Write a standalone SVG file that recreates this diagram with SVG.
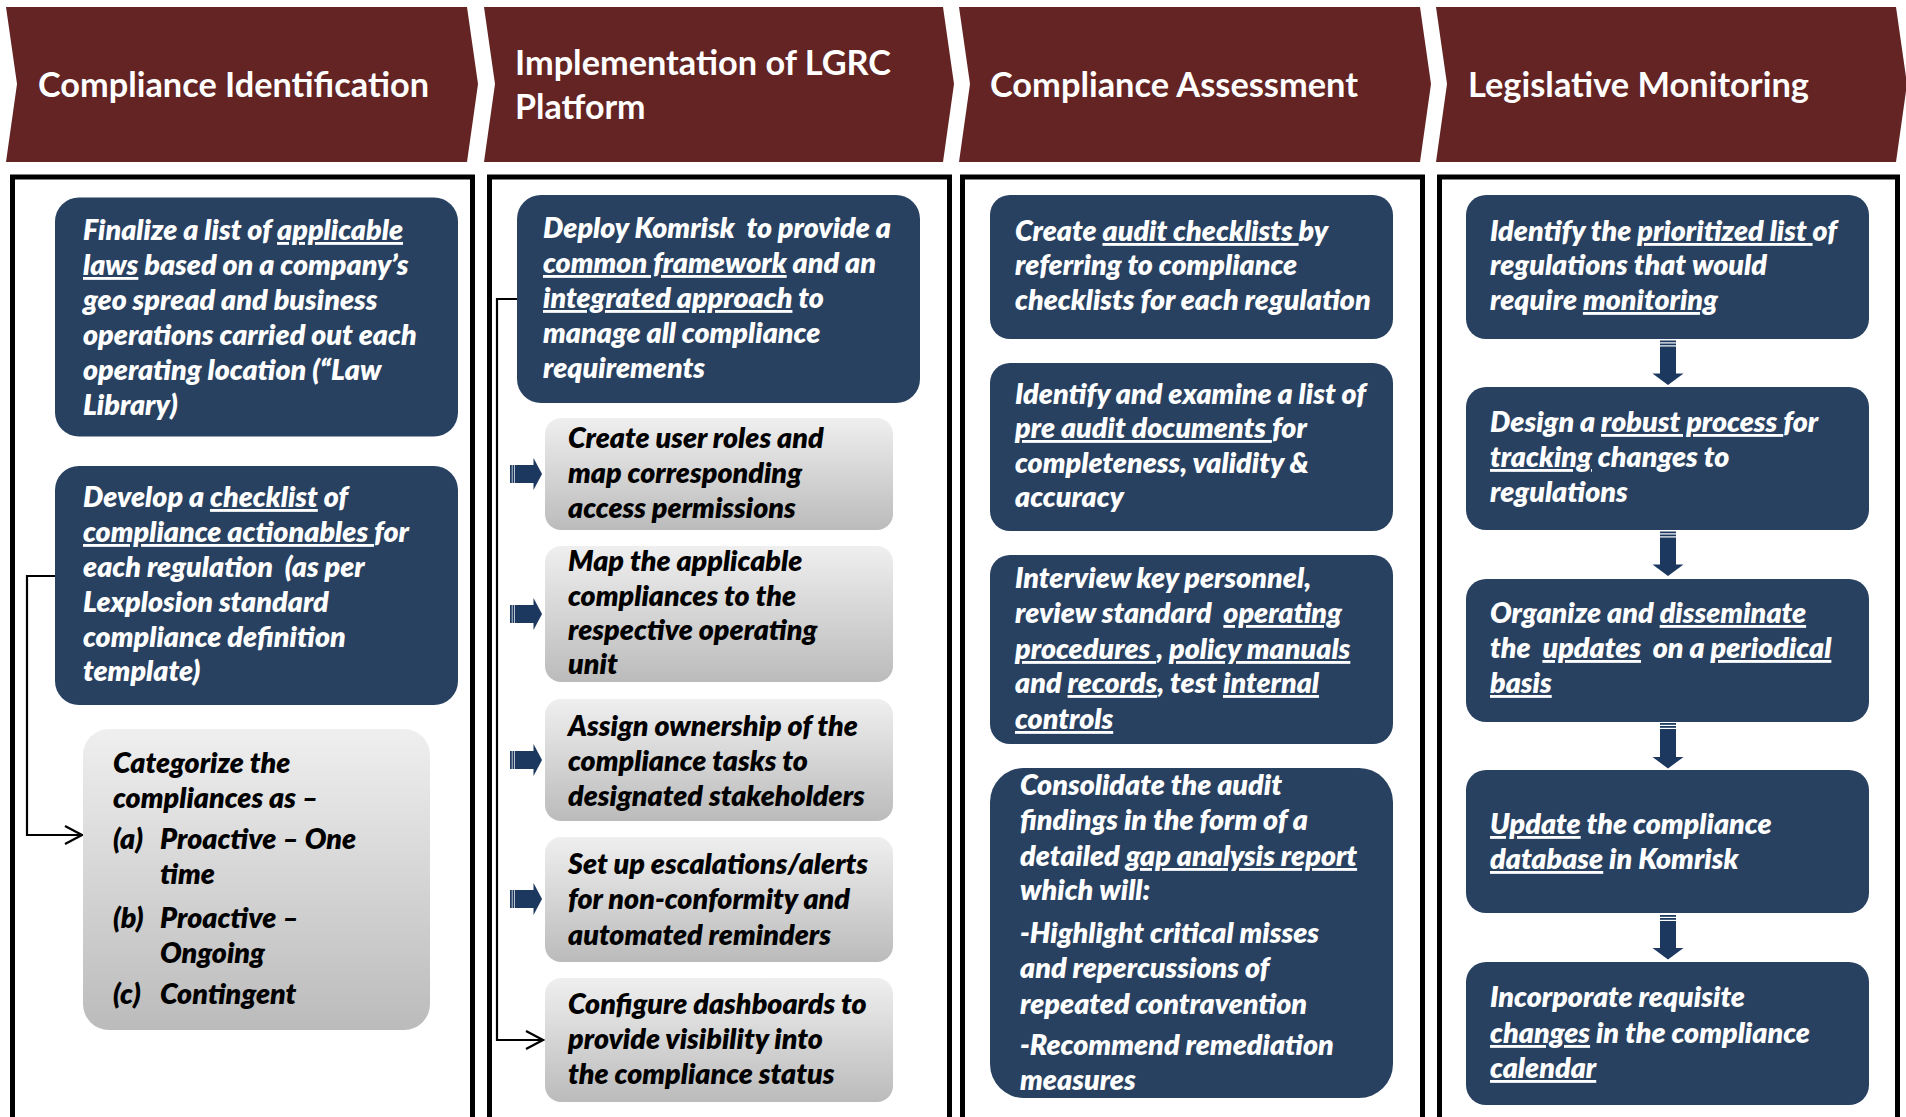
<svg xmlns="http://www.w3.org/2000/svg" width="1906" height="1117" viewBox="0 0 1906 1117">
<defs>
<style>
.hdr{font-family:Lato,"Liberation Sans",sans-serif;font-weight:700;font-size:34px;fill:#fff}
.bt{font-family:Lato,"Liberation Sans",sans-serif;font-weight:800;font-style:italic;font-size:28.6px;fill:#fff;white-space:pre}
.gt{font-family:Lato,"Liberation Sans",sans-serif;font-weight:800;font-style:italic;font-size:28.6px;fill:#000;white-space:pre}
.u{text-decoration:underline}
.chev{fill:#632423}
.blue{fill:#284161}
.gray{fill:url(#gg)}
.col{fill:none;stroke:#000;stroke-width:5}
.conn{fill:none;stroke:#000;stroke-width:2.2}
.ba{fill:#1c385f}
</style>
<linearGradient id="gg" x1="0" y1="0" x2="0" y2="1">
<stop offset="0" stop-color="#efefef"/>
<stop offset="1" stop-color="#bbbbbb"/>
</linearGradient>
<marker id="oa" markerWidth="20" markerHeight="22" refX="18" refY="10" orient="auto" markerUnits="userSpaceOnUse">
<path d="M1,1 L18,10 L1,19" fill="none" stroke="#000" stroke-width="2.2"/>
</marker>
</defs>
<rect width="1906" height="1117" fill="#fff"/>

<g id="headers">
<g id="h1"><polygon class="chev" points="6,7 467,7 478,84 467,162 6,162 17,84"/><text class="hdr" x="38" y="97" textLength="391" lengthAdjust="spacingAndGlyphs">Compliance Identification</text></g>
<g id="h2"><polygon class="chev" points="484,7 943,7 954,84 943,162 484,162 495,84"/><text class="hdr" x="515" y="75" textLength="376" lengthAdjust="spacingAndGlyphs">Implementation of LGRC</text><text class="hdr" x="515" y="119">Platform</text></g>
<g id="h3"><polygon class="chev" points="959,7 1420,7 1431,84 1420,162 959,162 970,84"/><text class="hdr" x="990" y="97" textLength="368" lengthAdjust="spacingAndGlyphs">Compliance Assessment</text></g>
<g id="h4"><polygon class="chev" points="1436,7 1896,7 1907,84 1896,162 1436,162 1447,84"/><text class="hdr" x="1468" y="97" textLength="341" lengthAdjust="spacingAndGlyphs">Legislative Monitoring</text></g>
</g>

<g id="columns">
<path class="col" d="M12.5,1120 V177 H472.5 V1120"/>
<path class="col" d="M489.5,1120 V177 H949.5 V1120"/>
<path class="col" d="M962.5,1120 V177 H1422.5 V1120"/>
<path class="col" d="M1439.5,1120 V177 H1897.5 V1120"/>
</g>

<g id="connectors">
<path class="conn" d="M57,576 H27 V835 H82" marker-end="url(#oa)"/>
<path class="conn" d="M517,299 H497 V1040 H543" marker-end="url(#oa)"/>
<g id="rarrows" class="ba">
<rect x="510" y="465" width="1.8" height="18"/><rect x="512.5" y="465" width="1.8" height="18"/><rect x="515" y="465" width="19" height="18"/><polygon points="533.5,458 542,474 533.5,490"/>
<rect x="510" y="605" width="1.8" height="18"/><rect x="512.5" y="605" width="1.8" height="18"/><rect x="515" y="605" width="19" height="18"/><polygon points="533.5,598 542,614 533.5,630"/>
<rect x="510" y="751" width="1.8" height="18"/><rect x="512.5" y="751" width="1.8" height="18"/><rect x="515" y="751" width="19" height="18"/><polygon points="533.5,744 542,760 533.5,776"/>
<rect x="510" y="890" width="1.8" height="18"/><rect x="512.5" y="890" width="1.8" height="18"/><rect x="515" y="890" width="19" height="18"/><polygon points="533.5,883 542,899 533.5,915"/>
</g>
<g id="darrows" class="ba">
<rect x="1660" y="340.5" width="16" height="1.8"/><rect x="1660" y="343.5" width="16" height="1.8"/><rect x="1660" y="346.5" width="16" height="27.5"/><polygon points="1652.5,373.5 1683.5,373.5 1668,385"/>
<rect x="1660" y="531.5" width="16" height="1.8"/><rect x="1660" y="534.5" width="16" height="1.8"/><rect x="1660" y="537.5" width="16" height="27.5"/><polygon points="1652.5,564.5 1683.5,564.5 1668,576"/>
<rect x="1660" y="723" width="16" height="1.8"/><rect x="1660" y="726" width="16" height="1.8"/><rect x="1660" y="729" width="16" height="28"/><polygon points="1652.5,757 1683.5,757 1668,768.5"/>
<rect x="1660" y="915" width="16" height="1.8"/><rect x="1660" y="918" width="16" height="1.8"/><rect x="1660" y="921" width="16" height="27.5"/><polygon points="1652.5,948 1683.5,948 1668,959.5"/>
</g>
</g>

<g id="c1b1"><rect class="blue" x="55" y="197.5" width="403" height="239" rx="24"/>
<text class="bt" x="83" y="240">Finalize a list of <tspan class="u">applicable</tspan></text>
<text class="bt" x="83" y="275"><tspan class="u">laws</tspan> based on a company’s</text>
<text class="bt" x="83" y="310">geo spread and business</text>
<text class="bt" x="83" y="345">operations carried out each</text>
<text class="bt" x="83" y="380">operating location (“Law</text>
<text class="bt" x="83" y="415">Library)</text>
</g>
<g id="c1b2"><rect class="blue" x="55" y="466" width="403" height="239" rx="24"/>
<text class="bt" x="83" y="507">Develop a <tspan class="u">checklist</tspan> of</text>
<text class="bt" x="83" y="542"><tspan class="u">compliance actionables </tspan>for</text>
<text class="bt" x="83" y="577">each regulation  (as per</text>
<text class="bt" x="83" y="612">Lexplosion standard</text>
<text class="bt" x="83" y="647">compliance definition</text>
<text class="bt" x="83" y="681">template)</text>
</g>
<g id="c1g"><rect class="gray" x="83" y="729" width="347" height="301" rx="26"/>
<text class="gt" x="113" y="773">Categorize the</text>
<text class="gt" x="113" y="808">compliances as –</text>
<text class="gt" x="113" y="849">(a)</text><text class="gt" x="160" y="849">Proactive – One</text>
<text class="gt" x="160" y="884">time</text>
<text class="gt" x="113" y="928">(b)</text><text class="gt" x="160" y="928">Proactive –</text>
<text class="gt" x="160" y="963">Ongoing</text>
<text class="gt" x="113" y="1004">(c)</text><text class="gt" x="160" y="1004">Contingent</text>
</g>

<g id="c2b1"><rect class="blue" x="517" y="195" width="403" height="208" rx="24"/>
<text class="bt" x="543" y="238">Deploy Komrisk  to provide a</text>
<text class="bt" x="543" y="273"><tspan class="u">common framework</tspan> and an</text>
<text class="bt" x="543" y="308"><tspan class="u">integrated approach</tspan> to</text>
<text class="bt" x="543" y="343">manage all compliance</text>
<text class="bt" x="543" y="378">requirements</text>
</g>
<g id="c2g1"><rect class="gray" x="545" y="418" width="348" height="112" rx="16"/>
<text class="gt" x="568" y="448">Create user roles and</text>
<text class="gt" x="568" y="483">map corresponding</text>
<text class="gt" x="568" y="518">access permissions</text>
</g>
<g id="c2g2"><rect class="gray" x="545" y="546" width="348" height="136" rx="16"/>
<text class="gt" x="568" y="571">Map the applicable</text>
<text class="gt" x="568" y="606">compliances to the</text>
<text class="gt" x="568" y="640">respective operating</text>
<text class="gt" x="568" y="674">unit</text>
</g>
<g id="c2g3"><rect class="gray" x="545" y="699" width="348" height="122" rx="16"/>
<text class="gt" x="568" y="736">Assign ownership of the</text>
<text class="gt" x="568" y="771">compliance tasks to</text>
<text class="gt" x="568" y="806">designated stakeholders</text>
</g>
<g id="c2g4"><rect class="gray" x="545" y="837" width="348" height="125" rx="16"/>
<text class="gt" x="568" y="874">Set up escalations/alerts</text>
<text class="gt" x="568" y="909">for non-conformity and</text>
<text class="gt" x="568" y="945">automated reminders</text>
</g>
<g id="c2g5"><rect class="gray" x="545" y="978" width="348" height="124" rx="16"/>
<text class="gt" x="568" y="1014">Configure dashboards to</text>
<text class="gt" x="568" y="1049">provide visibility into</text>
<text class="gt" x="568" y="1084">the compliance status</text>
</g>

<g id="c3b1"><rect class="blue" x="990" y="195" width="403" height="144" rx="20"/>
<text class="bt" x="1015" y="241">Create <tspan class="u">audit checklists </tspan>by</text>
<text class="bt" x="1015" y="275">referring to compliance</text>
<text class="bt" x="1015" y="310">checklists for each regulation</text>
</g>
<g id="c3b2"><rect class="blue" x="990" y="363" width="403" height="168" rx="20"/>
<text class="bt" x="1015" y="404">Identify and examine a list of</text>
<text class="bt" x="1015" y="438"><tspan class="u">pre audit documents </tspan>for</text>
<text class="bt" x="1015" y="473">completeness, validity &amp;</text>
<text class="bt" x="1015" y="507">accuracy</text>
</g>
<g id="c3b3"><rect class="blue" x="990" y="555" width="403" height="189" rx="20"/>
<text class="bt" x="1015" y="588">Interview key personnel,</text>
<text class="bt" x="1015" y="623">review standard  <tspan class="u">operating</tspan></text>
<text class="bt" x="1015" y="659"><tspan class="u">procedures </tspan>, <tspan class="u">policy manuals</tspan></text>
<text class="bt" x="1015" y="693">and <tspan class="u">records</tspan>, test <tspan class="u">internal</tspan></text>
<text class="bt" x="1015" y="729"><tspan class="u">controls</tspan></text>
</g>
<g id="c3b4"><rect class="blue" x="990" y="768" width="403" height="330" rx="34"/>
<text class="bt" x="1020" y="795">Consolidate the audit</text>
<text class="bt" x="1020" y="830">findings in the form of a</text>
<text class="bt" x="1020" y="866">detailed <tspan class="u">gap analysis report</tspan></text>
<text class="bt" x="1020" y="900">which will:</text>
<text class="bt" x="1020" y="943">-Highlight critical misses</text>
<text class="bt" x="1020" y="978">and repercussions of</text>
<text class="bt" x="1020" y="1014">repeated contravention</text>
<text class="bt" x="1020" y="1055">-Recommend remediation</text>
<text class="bt" x="1020" y="1090">measures</text>
</g>

<g id="c4b1"><rect class="blue" x="1466" y="195" width="403" height="144" rx="20"/>
<text class="bt" x="1490" y="241">Identify the <tspan class="u">prioritized list </tspan>of</text>
<text class="bt" x="1490" y="275">regulations that would</text>
<text class="bt" x="1490" y="310">require <tspan class="u">monitoring</tspan></text>
</g>
<g id="c4b2"><rect class="blue" x="1466" y="387" width="403" height="143" rx="20"/>
<text class="bt" x="1490" y="432">Design a <tspan class="u">robust process </tspan>for</text>
<text class="bt" x="1490" y="467"><tspan class="u">tracking</tspan> changes to</text>
<text class="bt" x="1490" y="502">regulations</text>
</g>
<g id="c4b3"><rect class="blue" x="1466" y="579" width="403" height="143" rx="20"/>
<text class="bt" x="1490" y="623">Organize and <tspan class="u">disseminate</tspan></text>
<text class="bt" x="1490" y="658">the  <tspan class="u">updates</tspan>  on a <tspan class="u">periodical</tspan></text>
<text class="bt" x="1490" y="693"><tspan class="u">basis</tspan></text>
</g>
<g id="c4b4"><rect class="blue" x="1466" y="770" width="403" height="143" rx="20"/>
<text class="bt" x="1490" y="834"><tspan class="u">Update</tspan> the compliance</text>
<text class="bt" x="1490" y="869"><tspan class="u">database</tspan> in Komrisk</text>
</g>
<g id="c4b5"><rect class="blue" x="1466" y="962" width="403" height="143" rx="20"/>
<text class="bt" x="1490" y="1007">Incorporate requisite</text>
<text class="bt" x="1490" y="1043"><tspan class="u">changes</tspan> in the compliance</text>
<text class="bt" x="1490" y="1078"><tspan class="u">calendar</tspan></text>
</g>
</svg>
